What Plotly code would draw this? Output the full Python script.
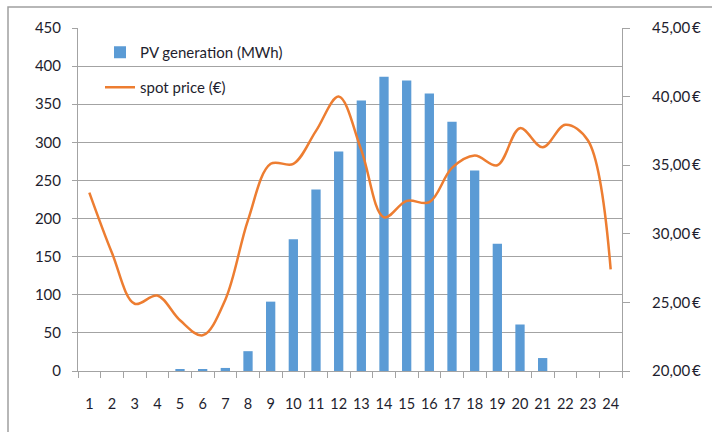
import plotly.graph_objects as go

hours = [str(h) for h in range(1, 25)]
pv_generation = [0, 0, 0, 0, 2, 2, 4, 26, 91, 173, 238, 288, 355, 386, 381, 364, 327, 263, 167, 61, 17, 0, 0, 0]
spot_price = [33.0, 28.6, 24.9, 25.5, 23.7, 22.6, 25.2, 31.0, 35.1, 35.1, 37.5, 40.0,
              36.1, 31.2, 32.4, 32.3, 34.8, 35.7, 35.0, 37.7, 36.3, 37.95, 36.8, 27.4]

FONT = "Lato"
TXT = "#1e1e2e"
GRID = "#a3a3a3"

W, H = 712, 432
L, R, T, B = 78, 90, 28, 61
pw, ph = W - L - R, H - T - B

fig = go.Figure()
fig.add_trace(go.Bar(x=hours, y=pv_generation, name="PV generation (MWh)",
                     marker=dict(color="#5B9BD5", line=dict(width=0)), legend="legend"))
fig.add_trace(go.Scatter(x=hours, y=spot_price, name="spot price (€)", yaxis="y2",
                         mode="lines", line=dict(color="#ED7D31", width=2.5, shape="spline", smoothing=1.0),
                         legend="legend2"))

fig.update_layout(
    width=W, height=H,
    margin=dict(l=L, r=R, t=T, b=B, autoexpand=False),
    paper_bgcolor="white", plot_bgcolor="white",
    font=dict(family=FONT, size=15, color=TXT),
    separators=",.",
    bargap=0.59,
    showlegend=True,
    legend=dict(x=(100 - L) / pw, y=1 - (36 - T) / ph, xanchor="left", yanchor="top",
                bgcolor="rgba(0,0,0,0)", font=dict(size=15, color=TXT, family=FONT)),
    legend2=dict(x=(100 - L) / pw, y=1 - (71 - T) / ph, xanchor="left", yanchor="top",
                 bgcolor="rgba(0,0,0,0)", font=dict(size=15, color=TXT, family=FONT)),
    xaxis=dict(type="category", showgrid=False, showline=True, linecolor=GRID, linewidth=1,
               ticks="outside", tickson="boundaries", ticklen=6, tickcolor=GRID,
               tickangle=0, automargin=False,
               ticklabelstandoff=20, tickfont=dict(size=14.5, color=TXT)),
    yaxis=dict(range=[0, 450], dtick=50, showgrid=True, gridcolor=GRID, gridwidth=1,
               showline=True, linecolor=GRID, ticks="outside", ticklen=5, tickcolor=GRID,
               automargin=False,
               ticklabelstandoff=8, zeroline=False, tickfont=dict(size=15, color=TXT)),
    yaxis2=dict(range=[20, 45], dtick=5, overlaying="y", side="right", showgrid=False,
                showline=True, linecolor=GRID, ticks="outside", ticklen=7, tickcolor=GRID,
                automargin=False,
                tickformat=".2f", ticksuffix="\u2009€", ticklabelstandoff=19, zeroline=False,
                tickfont=dict(size=15, color=TXT)),
    shapes=[dict(type="rect", xref="paper", yref="paper",
                 x0=(8 - L) / pw, x1=(W + 20 - L) / pw,
                 y0=-(H + 20 - T - ph) / ph, y1=1 + (T - 7) / ph,
                 line=dict(color="#a0a0a0", width=1.5), fillcolor="rgba(0,0,0,0)", layer="below")],
)

fig.write_html("out.html", config={"displayModeBar": False},
               post_script="document.body.style.margin='0';document.body.style.overflow='hidden';")
